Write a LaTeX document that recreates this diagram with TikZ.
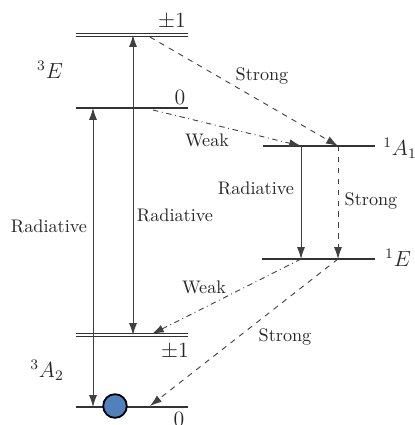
\documentclass[tikz,border=0pt]{standalone}
\usetikzlibrary{arrows.meta, positioning}
\definecolor{NVblue}{HTML}{4F81BD}
\begin{document}
\begin{tikzpicture}[x=0.55pt, y=-0.55pt,
      >={Latex[length=6.5pt,width=4.4pt]},
      level/.style={draw=black!80, line width=0.65pt},
      doublelevel/.style={draw=black!80, line width=0.5pt, double, double distance=1.4pt},
      radiative/.style={draw=black!75, line width=0.5pt},
      strong/.style={radiative, dashed},
      weak/.style={radiative, dash dot},
      lbl/.style={text=black!85, inner sep=0pt},
      statelbl/.style={lbl, font=\large}]
   \useasboundingbox (0,0) rectangle (415,425);
   % Levels
   \coordinate (EpmL) at (76,35);   \coordinate (EpmR) at (188,35);
   \coordinate (EzL) at (76,108);   \coordinate (EzR) at (188,108);
   \coordinate (AoneL) at (263,146); \coordinate (AoneR) at (375,146);
   \coordinate (SEL) at (262,259);  \coordinate (SER) at (375,259);
   \coordinate (ApmL) at (76,335);  \coordinate (ApmR) at (188,335);
   \coordinate (AzL) at (76,407);   \coordinate (AzR) at (188,407);
   \draw[doublelevel] (EpmL) -- (EpmR);
   \draw[level] (EzL) -- (EzR);
   \draw[level] (AoneL) -- (AoneR);
   \draw[level] (SEL) -- (SER);
   \draw[doublelevel] (ApmL) -- (ApmR);
   \draw[level] (AzL) -- (AzR);
   % Level labels
   \node[statelbl] (tripE) at (50,70) {$^3E$};
   \node[statelbl] (tripEpm) at (172,21) {$\pm1$};
   \node[statelbl] (tripEz) at (180,97) {$0$};
   \node[statelbl] (singA) at (400,148) {$^1A_1$};
   \node[statelbl] (singE) at (398,258) {$^1E$};
   \node[statelbl] (tripA) at (47,370) {$^3A_2$};
   \node[statelbl] (tripApm) at (175,351) {$\pm1$};
   \node[statelbl] (tripAz) at (179,419) {$0$};
   % Transition end points
   \coordinate (radOneBot) at (93,407);  \coordinate (radOneTop) at (93,108);
   \coordinate (radTwoBot) at (133,335); \coordinate (radTwoTop) at (133,35);
   \coordinate (radThrTop) at (301,146); \coordinate (radThrBot) at (301,259);
   \coordinate (strVTop) at (338,146);   \coordinate (strVBot) at (338,259);
   \coordinate (strOneA) at (150,37);
   \coordinate (weakOneA) at (153,110);
   \coordinate (weakTwoB) at (152,334);
   \coordinate (strTwoB) at (150,406);
   % Radiative transitions
   \draw[radiative, <->] (radOneBot) -- (radOneTop);
   \draw[radiative, <->] (radTwoBot) -- (radTwoTop);
   \draw[radiative, ->] (radThrTop) -- (radThrBot);
   \node[lbl] (radOne) at (49,226) {Radiative};
   \node[lbl] (radTwo) at (175,215) {Radiative};
   \node[lbl] (radThr) at (256,188) {Radiative};
   % Intersystem crossings
   \draw[strong, ->] (strVTop) -- (strVBot);
   \node[lbl] (strV) at (371,201) {Strong};
   \draw[strong, ->] (strOneA) -- (strVTop);
   \node[lbl] (strOne) at (262,76) {Strong};
   \draw[weak, ->] (weakOneA) -- (radThrTop);
   \node[lbl] (weakOne) at (207,140) {Weak};
   \draw[weak, ->] (radThrBot) -- (weakTwoB);
   \node[lbl] (weakTwo) at (204,287) {Weak};
   \draw[strong, ->] (strVBot) -- (strTwoB);
   \node[lbl] (strTwo) at (285,337) {Strong};
   % Ground state population
   \node[circle, draw, fill=NVblue, line width=1pt, minimum size=13pt, inner sep=0pt] (spin) at (115,406) {};
\end{tikzpicture}
\end{document}
